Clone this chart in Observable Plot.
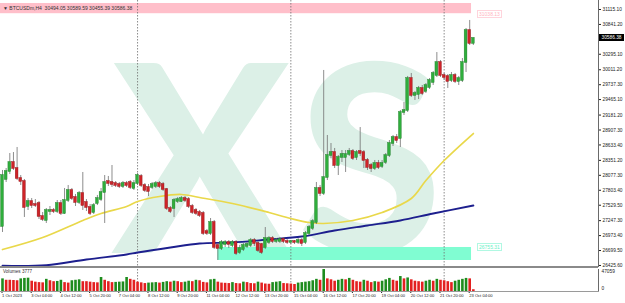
<!DOCTYPE html>
<html><head><meta charset="utf-8">
<script src="https://cdn.jsdelivr.net/npm/d3@7"></script>
<script src="https://cdn.jsdelivr.net/npm/@observablehq/plot@0.6"></script>
<style>
html,body{margin:0;padding:0;background:#fff;}
#wrap{position:relative;width:625px;height:303px;overflow:hidden;font-family:"Liberation Sans",Arial,sans-serif;}
#wrap > svg{position:absolute;left:0;}
.wm{position:absolute;left:112px;top:21px;font-family:Lato,"Liberation Sans",sans-serif;font-weight:900;font-size:262px;line-height:262px;color:#dcf0e7;white-space:nowrap;letter-spacing:8px;}
.ov{position:absolute;white-space:nowrap;}
</style></head><body><div id="wrap"><div class="wm">XS</div></div>
<script>
// ---- data (H4 bars, bar 0 = 1 Oct 2023 20:00) ----
const symbol = "BTCUSDm,H4";
const open = [27140,28001,28147,28312,28202,28019,27964,27506,27597,27543,
27561,27323,27250,27414,27433,27414,27561,27378,27616,27799,
27671,27579,27744,27579,27488,27396,27561,27634,27762,27964,
27946,27927,27909,27872,27927,27946,27836,27927,28056,27891,
27854,27854,27872,27927,27909,27817,27469,27469,27597,27597,
27652,27634,27506,27433,27396,27378,27048,27011,27213,26792,
26737,26810,26847,26792,26847,26663,26718,26773,26792,26883,
26828,26810,26755,26847,26920,26865,26865,26902,26865,26847,
26865,26847,26883,26847,27011,27103,27213,27836,27744,28037,
28440,28495,28257,28404,28404,28459,28514,28404,28514,28495,
28349,28257,28202,28294,28239,28312,28440,28660,28770,28752,
29228,29265,29851,29540,29559,29668,29613,29686,29778,29906,
30144,29906,29888,29814,29906,29796,29814,30144,30730,30494.05];
const high = [28166,28202,28477,28495,28587,28074,28001,27652,27652,27634,
27597,27396,27469,27506,27469,27616,27616,27836,27891,27836,
27726,27781,28129,27634,27543,27561,27708,27836,28074,28056,
28257,27964,27946,27964,27964,27982,27982,28111,28092,27927,
27909,27946,27964,27964,27946,27836,27506,27652,27671,27689,
27689,27671,27543,27469,27433,27414,27085,27286,27250,26828,
26883,26883,26883,26883,26883,26792,26828,26847,26920,26920,
26865,26828,27121,26956,26956,26920,26938,26938,26902,26883,
26883,26920,26920,27048,27158,27268,27946,27891,29998,28807,
28660,28569,28440,28532,28532,28569,28550,28532,28953,28532,
28385,28294,28349,28349,28349,28477,28715,28807,28825,29265,
29411,29888,29943,29613,29705,29723,29759,29851,29979,30327,
30181,29943,29924,29961,29943,29888,30217,30767,30914,30589.59];
const low = [27030,27946,28092,28166,27982,27891,27305,27433,27469,27488,
27268,27231,27195,27341,27378,27378,27341,27360,27579,27616,
27506,27543,27433,27414,27341,27360,27524,27597,27195,27872,
27854,27854,27836,27836,27854,27817,27799,27891,27854,27762,
27689,27817,27836,27836,27781,27433,27378,27305,27561,27579,
27579,27469,27360,27341,27305,26975,26975,26975,26718,26517,
26700,26755,26737,26755,26608,26627,26682,26737,26755,26773,
26663,26627,26718,26810,26828,26828,26828,26828,26810,26810,
26810,26810,26773,26810,26975,27066,27176,27689,27708,27982,
28385,28202,28074,28312,28129,28422,28349,28349,28422,28202,
28166,28129,28166,28184,28202,28276,28404,28605,28660,28587,
29173,29228,29503,29448,29466,29540,29576,29650,29723,29869,
29869,29814,29668,29778,29759,29723,29778,29961,30456,30455.39];
const close = [28074,28147,28312,28202,28019,27964,27488,27597,27524,27524,
27323,27268,27433,27433,27414,27561,27378,27616,27799,27652,
27579,27744,27524,27488,27378,27524,27652,27762,27946,27927,
27909,27891,27872,27927,27891,27854,27927,28074,27891,27799,
27781,27909,27927,27872,27817,27469,27414,27616,27634,27652,
27616,27506,27396,27378,27341,27011,27011,27213,26755,26737,
26847,26847,26810,26847,26645,26737,26792,26810,26883,26828,
26700,26663,26920,26920,26865,26883,26902,26865,26847,26865,
26847,26883,26828,27011,27121,27231,27836,27744,28037,28440,
28495,28257,28404,28459,28459,28514,28385,28495,28477,28349,
28221,28202,28294,28221,28294,28440,28660,28770,28715,29228,
29265,29851,29540,29576,29668,29576,29723,29814,29943,30144,
29906,29869,29796,29906,29796,29851,30144,30730,30492,30586.38];
const volume = [27000,24000,24000,23500,23000,27000,28000,28500,22000,20000,
19000,18500,26000,23000,21000,21500,24000,19000,18000,23000,
24000,25000,21000,21000,20000,19000,18500,30000,24000,21000,
19000,19500,20000,20500,30000,26000,24000,20000,18500,17000,
18000,18500,19000,18000,19500,21000,20000,22000,21000,19000,
20000,22000,21000,24000,23000,19500,18500,25000,26000,20000,
18000,17500,17000,19000,17000,16500,20000,19000,17000,16500,
20000,18000,16000,15500,19000,20000,21000,17000,16500,16000,
15000,18000,19000,20000,21000,23000,26000,24000,47059,27000,
25000,22000,24000,26000,25000,28000,24000,21000,20000,24000,
22000,19000,21000,20000,22000,25000,28000,24000,22000,32000,
27000,29000,25000,22000,21000,20000,22000,24000,22000,26000,
24000,23000,21000,19000,22000,24000,26000,28000,27000,3777];
const yellowBar = [0,11,22,27,34,37,43,49,54,63,73,79,84,88,96,104,112,116,121,129];
const yellowVal = [26718,26938,27250,27378,27506,27597,27689,27726,27671,27561,27396,27286,27213,27195,27250,27396,27652,27982,28349,28843];
const blueBar = [0,12,23,34,37,46,54,63,73,82,91,100,109,118,129];
const blueVal = [26420,26430,26535,26627,26663,26755,26828,26847,26902,26956,27066,27158,27250,27378,27524];
const sepBars = [37,79,121];
const tickBars = [0,8,16,24,32,40,48,56,64,72,80,88,96,104,112,120,128];
const tickLabels = ["1 Oct 2023","3 Oct 04:00","4 Oct 12:00","5 Oct 20:00","7 Oct 04:00","8 Oct 12:00","9 Oct 20:00","11 Oct 04:00","12 Oct 12:00","13 Oct 20:00","15 Oct 04:00","16 Oct 12:00","17 Oct 20:00","19 Oct 04:00","20 Oct 12:00","21 Oct 20:00","23 Oct 04:00"];
const priceTicks = [31115.10,30841.20,30295.10,30011.20,29737.30,29465.10,29181.20,28907.30,28633.40,28351.20,28077.30,27803.40,27529.50,27247.30,26973.40,26699.50,26425.60];
const supplyZone = {from: -2, to: 128.5, low: 31038.13, high: 31225};
const demandZone = {from: 59, to: 128.5, low: 26517, high: 26755.31};
const volMax = 47059;

// ---- build ----
const bars = open.map((o,i)=>({i, open:o, high:high[i], low:low[i], close:close[i]}));
const vols = volume.map((v,i)=>({i, v, up: i===0 || v > volume[i-1]}));
const yellow = yellowBar.map((b,k)=>({b, v:yellowVal[k]}));
const blue = blueBar.map((b,k)=>({b, v:blueVal[k]}));
const labelMap = new Map(tickBars.map((b,k)=>[b,tickLabels[k]]));
const GREEN = "#2fae3c", RED = "#cf2328";

const W = 625, mainH = 267, mR = 27;
const xDom = [-0.548, 163.29];
const yDom = [26388.6, 31280];
const font = "Liberation Sans, Arial, sans-serif";

const main = Plot.plot({
  width: W, height: mainH, marginTop: 0, marginBottom: 0, marginLeft: 0, marginRight: mR,
  x: {domain: xDom, axis: null},
  y: {domain: yDom, axis: null},
  style: {background: "transparent", overflow: "visible", fontFamily: font, color: "#222"},
  marks: [
    Plot.rect([supplyZone], {x1: "from", x2: "to", y1: "low", y2: "high", fill: "#ffbfca"}),
    Plot.rect([demandZone], {x1: "from", x2: "to", y1: "low", y2: "high", fill: "#80fdd2"}),
    Plot.ruleX(sepBars, {stroke: "#6f6f6f", strokeWidth: 0.8, strokeDasharray: "1.5,1.5"}),
    Plot.line(yellow, {x: "b", y: "v", stroke: "#e9d84a", strokeWidth: 1.7, curve: "catmull-rom"}),
    Plot.line(blue, {x: "b", y: "v", stroke: "#1d1f8e", strokeWidth: 1.9, curve: "catmull-rom"}),
    Plot.ruleX(bars, {x: "i", y1: "low", y2: "high", stroke: "#707070", strokeWidth: 0.8}),
    Plot.rect(bars, {x1: d => d.i - 0.38, x2: d => d.i + 0.38, y1: "open", y2: "close",
      fill: d => d.close >= d.open ? GREEN : RED,
      stroke: d => d.close >= d.open ? "#1f7a28" : "#8c1519", strokeWidth: 0.4,
      insetTop: -0.5, insetBottom: -0.5}),
    Plot.ruleX([xDom[1]], {stroke: "#6a6a6a", strokeWidth: 1}),
    Plot.axisY(priceTicks, {anchor: "right", tickSize: 2, tickPadding: 2, fontSize: 4.8,
      tickFormat: d => d.toFixed(2), label: null})
  ]
});
main.style.top = "0px";
document.getElementById("wrap").appendChild(main);

const vol = Plot.plot({
  width: W, height: 36, marginTop: 2, marginBottom: 12, marginLeft: 0, marginRight: mR,
  x: {domain: xDom, axis: null},
  y: {domain: [0, volMax], axis: null},
  style: {background: "transparent", overflow: "visible", fontFamily: font, color: "#222"},
  marks: [
    Plot.ruleX(sepBars, {stroke: "#6f6f6f", strokeWidth: 0.8, strokeDasharray: "1.5,1.5"}),
    Plot.ruleX(vols, {x: "i", y1: 0, y2: "v", stroke: d => d.up ? "#1e8c1e" : "#e32020", strokeWidth: 2.6}),
    Plot.ruleX([xDom[1]], {stroke: "#6a6a6a", strokeWidth: 1}),
    Plot.axisY([volMax], {anchor: "right", tickSize: 0, tickPadding: 3, fontSize: 4.8, dy: 1.6, tickFormat: d => String(d), label: null}),
    Plot.axisY([0], {anchor: "right", tickSize: 0, tickPadding: 3, fontSize: 4.8, dy: -2.6, tickFormat: d => String(d), label: null}),
    Plot.axisX(tickBars, {anchor: "bottom", tickSize: 2, tickPadding: 1, fontSize: 4.1,
      textAnchor: "start", dx: -0.5, tickFormat: d => labelMap.get(d), label: null})
  ]
});
vol.style.top = "267px";
document.getElementById("wrap").appendChild(vol);

// ---- overlays positioned through the same scales ----
const wrap = document.getElementById("wrap");
const ys = d3.scaleLinear().domain(yDom).range([mainH, 0]);
const xs = d3.scaleLinear().domain(xDom).range([0, W - mR]);
function ov(html, css){ const d = document.createElement("div"); d.className = "ov"; d.innerHTML = html; Object.assign(d.style, css); wrap.appendChild(d); return d; }
// panel borders
ov("", {left:"0px", top:"266px", width:(W-mR)+"px", height:"2px", background:"#8a8a8a"});
ov("", {left:"0px", top:"291px", width:(W-mR+1)+"px", height:"1px", background:"#9a9a9a"});
// title
const last = bars[bars.length-1];
ov("&#9660; " + symbol + "&nbsp; " + [last.open,last.high,last.low,last.close].map(v=>v.toFixed(2)).join(" "),
   {left:"3px", top:"5px", fontSize:"5px", lineHeight:"6px", color:"#333"});
ov("Volumes " + volume[volume.length-1], {left:"3px", top:"268.5px", fontSize:"4.6px", lineHeight:"5px", color:"#333"});
// current price box
ov(last.close.toFixed(2), {left:(W-mR+1)+"px", top:(ys(last.close)-3.5)+"px", width:"25px", height:"7px",
   background:"#000", color:"#fff", fontSize:"4.8px", lineHeight:"7px", textAlign:"center"});
// zone labels
ov(supplyZone.low.toFixed(2), {left:(xs(supplyZone.to)+6)+"px", top:(ys(supplyZone.low)-3.5)+"px", fontSize:"5px", lineHeight:"6px",
   color:"#ffb3c0", border:"0.6px solid #ffd4dc", padding:"0 1px"});
ov(demandZone.high.toFixed(2), {left:(xs(demandZone.to)+6)+"px", top:(ys(demandZone.high)-3.5)+"px", fontSize:"5px", lineHeight:"6px",
   color:"#6cf0c8", border:"0.6px solid #b0f8e2", padding:"0 1px"});
</script></body></html>
